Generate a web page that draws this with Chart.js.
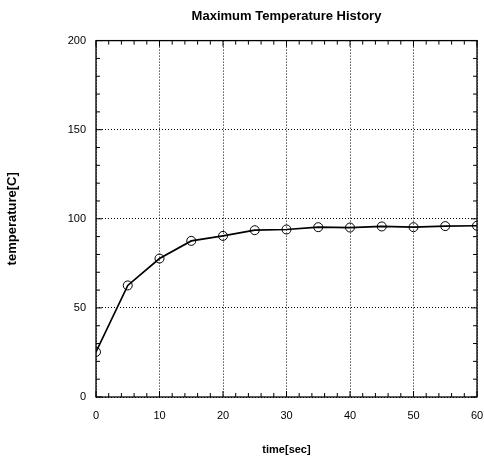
<!DOCTYPE html>
<html>
<head>
<meta charset="utf-8">
<script src="https://cdn.jsdelivr.net/npm/chart.js@4.4.0/dist/chart.umd.min.js"></script>
<style>
  html, body { margin: 0; padding: 0; background: #fff; }
</style>
</head>
<body>
<canvas id="chart" width="484" height="459"></canvas>
<script>
// values
const timeSec = [0, 5, 10, 15, 20, 25, 30, 35, 40, 45, 50, 55, 60];
const maxTemp = [25.3, 62.6, 77.7, 87.6, 90.4, 93.6, 94.0, 95.3, 95.1, 95.7, 95.3, 95.9, 96.1];
const xTicks = [0, 10, 20, 30, 40, 50, 60];
const yTicks = [0, 50, 100, 150, 200];
const xMinorStep = 2;
const yMinorStep = 10;

const font = 'Liberation Sans, Arial, Helvetica, sans-serif';

// box round the plot + little inward ticks on all four sides
const frameTicks = {
    id: 'frameTicks',
    beforeDatasetsDraw(chart) {
        const {ctx, chartArea: a, scales: {x, y}} = chart;
        ctx.save();
        ctx.strokeStyle = '#000';
        ctx.lineWidth = 1.3;
        ctx.strokeRect(a.left, a.top, a.right - a.left, a.bottom - a.top);
        ctx.lineWidth = 1;
        ctx.beginPath();
        for (let v = x.min; v <= x.max; v += xMinorStep) {
            const px = x.getPixelForValue(v);
            const len = xTicks.includes(v) ? 6 : 4;
            ctx.moveTo(px, a.bottom); ctx.lineTo(px, a.bottom - len);
            ctx.moveTo(px, a.top); ctx.lineTo(px, a.top + len);
        }
        for (let v = y.min; v <= y.max; v += yMinorStep) {
            const py = y.getPixelForValue(v);
            const len = yTicks.includes(v) ? 6 : 4;
            ctx.moveTo(a.left, py); ctx.lineTo(a.left + len, py);
            ctx.moveTo(a.right, py); ctx.lineTo(a.right - len, py);
        }
        ctx.stroke();
        ctx.restore();
    }
};

const gridStyle = {
    color: '#000',
    lineWidth: 1,
    drawTicks: false,
};

new Chart(document.getElementById('chart'), {
    type: 'scatter',
    data: {
        datasets: [{
            label: 'max temperature',
            data: timeSec.map((t, i) => ({x: t, y: maxTemp[i]})),
            showLine: true,
            borderColor: '#000',
            borderWidth: 1.7,
            pointRadius: 4.5,
            pointBorderWidth: 1,
            pointBorderColor: '#000',
            pointBackgroundColor: 'rgba(255,255,255,0)',
        }]
    },
    options: {
        responsive: false,
        animation: false,
        layout: {padding: {left: 0, right: 7, top: 0, bottom: 0}},
        plugins: {
            legend: {display: false},
            tooltip: {enabled: false},
            title: {
                display: true,
                fullSize: false,
                text: 'Maximum Temperature History',
                color: '#000',
                font: {family: font, size: 13, weight: 'bold'},
                padding: {top: 9, bottom: 16},
            }
        },
        scales: {
            x: {
                type: 'linear',
                min: 0, max: 60,
                afterBuildTicks: s => { s.ticks = xTicks.map(v => ({value: v})); },
                afterFit: s => { s.height = 62; s.paddingLeft = 0; s.paddingRight = 0; },
                grid: gridStyle,
                border: {display: false, dash: [1, 2]},
                ticks: {color: '#000', padding: 12, maxRotation: 0, font: {family: font, size: 11}},
                title: {
                    display: true,
                    text: 'time[sec]',
                    color: '#000',
                    font: {family: font, size: 11, weight: 'bold'},
                    padding: {top: 0, bottom: 2},
                }
            },
            y: {
                type: 'linear',
                min: 0, max: 200,
                afterBuildTicks: s => { s.ticks = yTicks.map(v => ({value: v})); },
                afterFit: s => { s.width = 96; },
                grid: gridStyle,
                border: {display: false, dash: [1, 2]},
                ticks: {color: '#000', padding: 10, font: {family: font, size: 11}},
                title: {
                    display: true,
                    text: 'temperature[C]',
                    color: '#000',
                    font: {family: font, size: 13, weight: 'bold'},
                    padding: {top: 5, bottom: 0},
                }
            }
        }
    },
    plugins: [frameTicks]
});
</script>
</body>
</html>
